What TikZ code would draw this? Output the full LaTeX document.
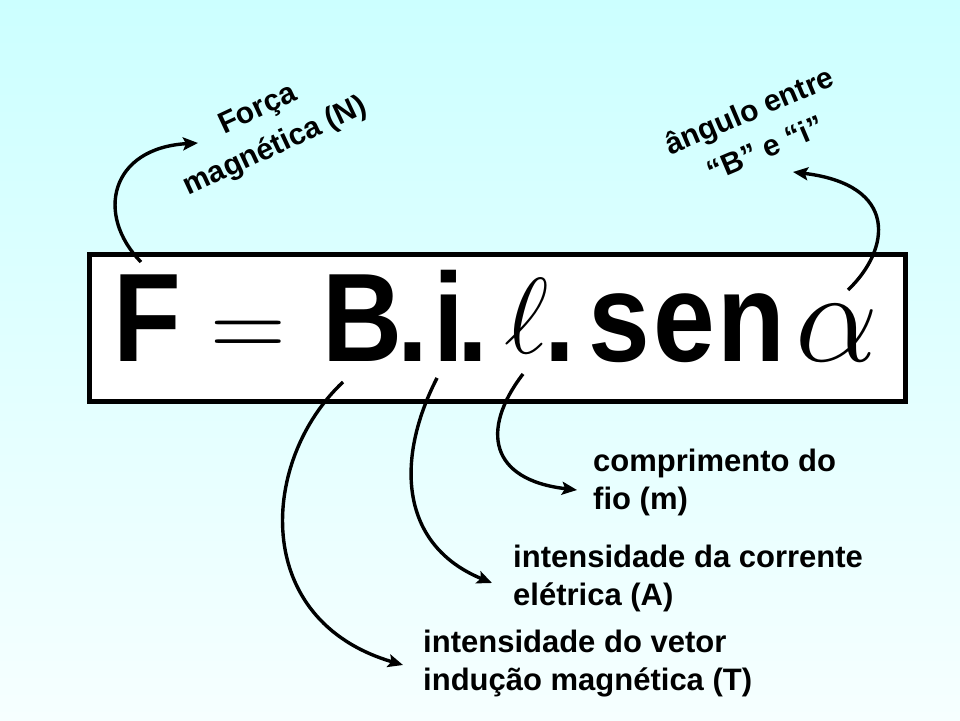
\documentclass[tikz,border=0pt]{standalone}
\usepackage{graphicx}
\usepackage[no-math]{fontspec}
\setmainfont{Liberation Sans}
\usetikzlibrary{arrows.meta}
\definecolor{bgtop}{RGB}{204,255,255}
\definecolor{bgbot}{RGB}{246,255,255}
\newcommand{\narrowglyph}[1]{\scalebox{0.88}[1]{#1}}
\begin{document}
\begin{tikzpicture}[x=1pt,y=1pt,
  lbl/.style={font=\bfseries\fontsize{31}{38}\selectfont, inner sep=0pt, align=left, anchor=base west},
  rlbl/.style={font=\bfseries\fontsize{30}{41}\selectfont, inner sep=0pt, align=center},
  glyph/.style={font=\bfseries\fontsize{126}{126}\selectfont, inner sep=0pt, anchor=base},
  mglyph/.style={inner sep=0pt, anchor=base, font=\fontsize{24.88}{30}\selectfont},
  conn/.style={line width=3.4pt, -{Stealth[length=15pt,width=13pt,inset=3pt]}}
]
\shade[top color=bgtop, bottom color=bgbot] (0,0) rectangle (960,720);
\useasboundingbox (0,0) rectangle (960,720);

% formula box
\node[draw=black, line width=5pt, fill=white, minimum width=816pt, minimum height=147pt, inner sep=0pt] (box) at (497.5,392) {};

% formula glyphs
\node[glyph] (gF) at (147,358) {\narrowglyph{F}};
\node[mglyph] (geq) at (248,361) {\scalebox{4.22}{$=$}};
\node[glyph] (gB) at (363,358) {\narrowglyph{B}};
\node[glyph] (gd1) at (413,358) {\narrowglyph{.}};
\node[glyph] (gi) at (449,358) {\narrowglyph{i}};
\node[glyph] (gd2) at (473,358) {\narrowglyph{.}};
\node[mglyph] (gell) at (527,366) {\scalebox{4.34}{$\ell$}};
\node[glyph] (gd3) at (560,358) {\narrowglyph{.}};
\node[glyph] (gs) at (619,358) {\narrowglyph{s}};
\node[glyph] (ge) at (684,358) {\narrowglyph{e}};
\node[glyph] (gn) at (751,358) {\narrowglyph{n}};
\node[mglyph] (galp) at (837,358) {\scalebox{5.3}{$\alpha$}};

% labels
\node[rlbl, rotate=25] (forca) at (267,591) {Força\\magnética (N)};
\node[rlbl, rotate=23] (ang) at (757,591) {ângulo entre\\“B” e “i”};
\node[lbl] (len) at (593,210) {comprimento do\\fio (m)};
\node[lbl] (cur) at (513,115) {intensidade da corrente\\elétrica (A)};
\node[lbl] (ind) at (423,30) {intensidade do vetor\\indução magnética (T)};

% connector ends
\coordinate (sF) at (141,458);
\coordinate (tF) at (198,577);
\coordinate (sA) at (848,430);
\coordinate (tA) at (793,548);
\coordinate (sB) at (343,338);
\coordinate (tB) at (403,55);
\coordinate (sI) at (437,342);
\coordinate (tI) at (492,137);
\coordinate (sL) at (523,346);
\coordinate (tL) at (577,230);

\draw[conn] (sF) .. controls (95,505) and (110,572) .. (tF);
\draw[conn] (sA) .. controls (890,470) and (900,535) .. (tA);
\draw[conn] (sB) .. controls (260,260) and (250,100) .. (tB);
\draw[conn] (sI) .. controls (395,260) and (400,175) .. (tI);
\draw[conn] (sL) .. controls (480,290) and (490,240) .. (tL);
\end{tikzpicture}
\end{document}
